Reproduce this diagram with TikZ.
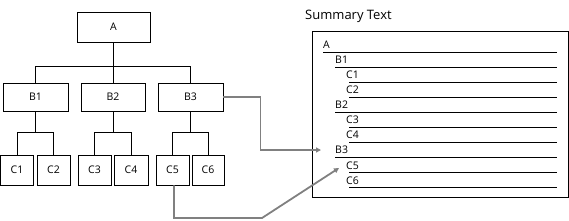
\documentclass[tikz,border=0pt]{standalone}
\usepackage{fontspec}
\setmainfont{Open Sans}
\usetikzlibrary{arrows.meta}
\begin{document}
\begin{tikzpicture}[x=1pt,y=-1pt,
  box/.style={draw, line width=0.9pt, inner sep=0pt, minimum height=30pt, font=\fontsize{10.5}{12}\selectfont},
  bbox/.style={box, minimum height=28pt},
  cbox/.style={box, minimum width=33pt},
  tree/.style={line width=0.9pt},
  arr/.style={draw=black!50, line width=1.8pt, -{Triangle[length=5pt,width=5pt]}},
  item/.style={anchor=base west, inner sep=0pt, font=\fontsize{10.5}{12}\selectfont},
  rule/.style={line width=0.9pt}]
\useasboundingbox (0,0) rectangle (569,220);
% tree
\node[box, minimum width=73pt] (A) at (113.5,27) {A};
\node[bbox, minimum width=65pt] (B1) at (35.5,97) {B1};
\node[bbox, minimum width=64pt] (B2) at (113,97) {B2};
\node[bbox, minimum width=65pt] (B3) at (190.5,97) {B3};
\node[cbox] (C1) at (17,170) {C1};
\node[cbox] (C2) at (53.5,170) {C2};
\node[cbox] (C3) at (94.5,170) {C3};
\node[cbox, minimum width=34pt] (C4) at (131,170) {C4};
\node[cbox] (C5) at (172.5,170) {C5};
\node[cbox, minimum width=32pt] (C6) at (208,170) {C6};
\draw[tree] (A.south) -- (A.south |- 0,67);
\draw[tree] (B2.north) -- ++(0,-16);
\draw[tree] (B1.north) -- ++(0,-16) -| (B3.north);
\foreach \b/\l/\r in {B1/C1/C2, B2/C3/C4, B3/C5/C6}{
  \draw[tree] (\b.south) -- (\b.south |- 0,133);
  \draw[tree] (\l.north) -- ++(0,-22) -| (\r.north);
}
% summary
\node[anchor=base west, inner sep=0pt, font=\fontsize{13}{15}\selectfont] (title) at (305,19) {Summary Text};
\node[draw, line width=0.9pt, minimum width=256pt, minimum height=166pt, inner sep=0pt] (sum) at (440,114) {};
\foreach \n/\t/\x/\lx/\y in {sA/A/323/323/52, sB1/B1/335/335/67, sC1/C1/346/349/82, sC2/C2/346/349/97,
  sB2/B2/335/335/112, sC3/C3/346/349/127, sC4/C4/346/349/142, sB3/B3/335/335/157,
  sC5/C5/346/349/172.5, sC6/C6/346/349/187.5}{
  \node[item] (\n) at (\x,\y-3.5) {\t};
  \draw[rule] (\lx,\y) -- (557,\y);
}
% arrows
\coordinate (p1) at (321,150);
\coordinate (p2) at (339,168);
\draw[arr] (B3.east) -- ++(37,0) |- (p1);
\draw[arr] ([xshift=1.5pt]C5.south) |- (262,218) -- (p2);
\end{tikzpicture}
\end{document}
